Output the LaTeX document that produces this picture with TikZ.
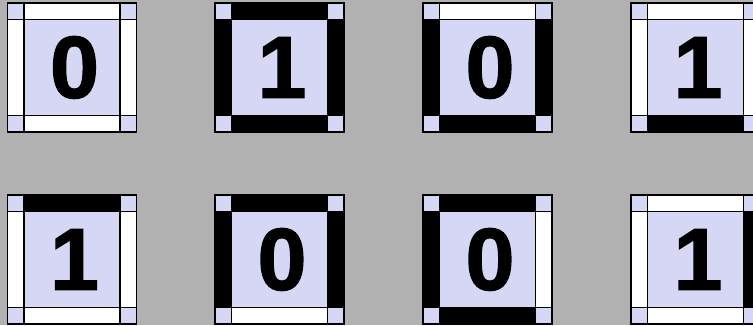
\documentclass[tikz,border=0pt]{standalone}
\usepackage{fontspec}
\setmainfont{Liberation Sans}
\newfontfamily\digitfont{Liberation Sans Bold}[FakeBold=1.6]
\usepackage{tikz}
\definecolor{tileGray}{HTML}{B1B1B1}
\definecolor{tileLavender}{HTML}{D6D7F4}
\tikzset{
  tileCell/.style={
    draw=black,
    line width=1.5pt
  },
  digit/.style={
    inner sep=0pt,
    font=\digitfont\fontsize{88}{88}\selectfont
  },
  pics/tile/.style n args={5}{code={
    \path[tileCell,fill=tileLavender] (0,0) rectangle (129,129);
    \path[tileCell,fill=#2] (16.5,0) rectangle (112.5,16.5);
    \path[tileCell,fill=#3] (112.5,16.5) rectangle (129,112.5);
    \path[tileCell,fill=#4] (16.5,112.5) rectangle (112.5,129);
    \path[tileCell,fill=#5] (0,16.5) rectangle (16.5,112.5);
    \path[tileCell] (0,0) rectangle (129,129);
    \node[digit] (-digit) at (67,64.5) {#1};
  }}
}

\begin{document}
\begin{tikzpicture}[x=1pt,y=-1pt]
  \fill[tileGray] (0,0) rectangle (753,325);
  \useasboundingbox (0,0) rectangle (753,325);
  % top row
  \pic (a) at (7.5,3) {tile={0}{white}{white}{white}{white}};
  \pic (b) at (215,3) {tile={1}{black}{black}{black}{black}};
  \pic (c) at (423,3) {tile={0}{white}{black}{black}{black}};
  \pic (d) at (631,3) {tile={1}{white}{white}{black}{white}};
  % bottom row
  \pic (e) at (7.5,195) {tile={1}{black}{white}{white}{white}};
  \pic (f) at (215,195) {tile={0}{black}{black}{white}{black}};
  \pic (g) at (423,195) {tile={0}{black}{white}{black}{black}};
  \pic (h) at (631,195) {tile={1}{white}{black}{white}{white}};
\end{tikzpicture}
\end{document}
